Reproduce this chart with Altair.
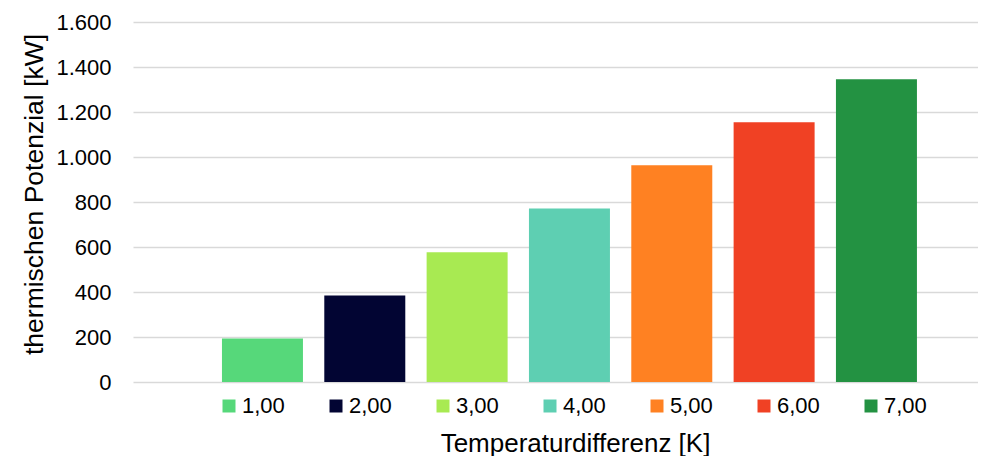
import altair as alt
import pandas as pd

categories = ["1,00", "2,00", "3,00", "4,00", "5,00", "6,00", "7,00"]
values = [193, 385, 577, 771, 963, 1154, 1346]
colors = ["#56D87A", "#020533", "#A8EA52", "#5ECFB2", "#FF8122", "#F04124", "#239242"]

df = pd.DataFrame({"dT": categories, "P": values})

FONT = "Liberation Sans"

chart = alt.Chart(df).mark_bar().encode(
    x=alt.X(
        "dT:N",
        sort=categories,
        scale=alt.Scale(paddingInner=0.2085, paddingOuter=0.733, align=0.593),
        axis=alt.Axis(
            labels=False, ticks=False, domain=False, grid=False,
            title="Temperaturdifferenz [K]",
            titleFont=FONT, titleFontSize=26, titleFontWeight="normal", titleColor="#000000",
            titleX=442, titleY=69, titleAlign="center", titleBaseline="alphabetic",
        ),
    ),
    y=alt.Y(
        "P:Q",
        scale=alt.Scale(domain=[0, 1600], nice=False),
        axis=alt.Axis(
            values=[0, 200, 400, 600, 800, 1000, 1200, 1400, 1600],
            labelExpr="replace(format(datum.value, ','), ',', '.')",
            title="thermischen Potenzial [kW]",
            titleFont=FONT, titleFontSize=26.5, titleFontWeight="normal", titleColor="#000000",
            titleAngle=-90, titleX=-99, titleY=172, titleAlign="center", titleBaseline="middle",
            labelFont=FONT, labelFontSize=22, labelColor="#000000", labelPadding=22,
            ticks=False, tickSize=0, domain=False,
            grid=True, gridColor="#D9D9D9", gridWidth=1.6,
        ),
    ),
    color=alt.Color(
        "dT:N",
        sort=categories,
        scale=alt.Scale(domain=categories, range=colors),
        legend=alt.Legend(
            title=None, orient="none", legendX=85, legendY=373,
            direction="horizontal", columns=7, columnPadding=40,
            symbolType="square", symbolSize=169, symbolStrokeWidth=0,
            labelFont=FONT, labelFontSize=22, labelColor="#000000", labelOffset=2,
            padding=0,
        ),
    ),
).properties(
    width=845, height=360,
    padding={"left": 125, "top": 14, "right": 0, "bottom": 74},
    autosize=alt.AutoSizeParams(type="none"),
).configure_view(stroke=None)

chart.save("out.html", embed_options={"renderer": "svg", "actions": False})
